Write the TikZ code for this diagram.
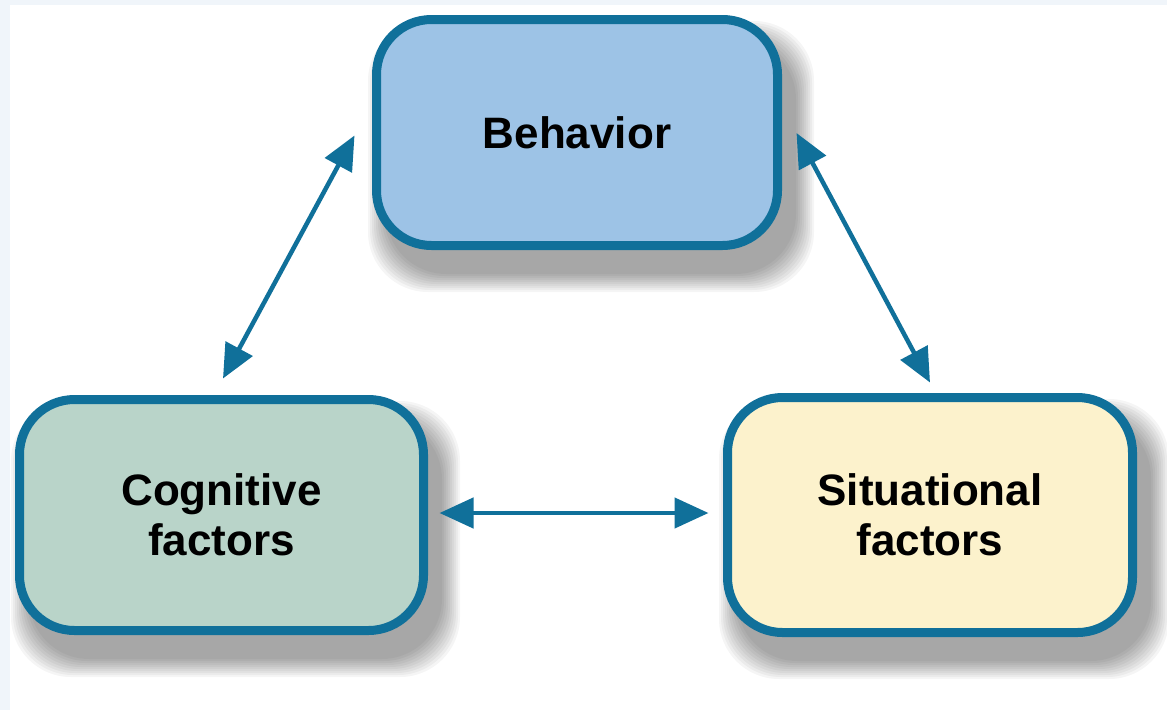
\documentclass[tikz,border=0pt]{standalone}
\usepackage{fontspec}
\setmainfont{Liberation Sans}
\usetikzlibrary{arrows.meta,calc}
\definecolor{edgeblue}{HTML}{10709A}
\definecolor{behfill}{HTML}{9DC3E6}
\definecolor{cogfill}{HTML}{B9D4C9}
\definecolor{sitfill}{HTML}{FCF2CC}
\definecolor{framecol}{HTML}{F0F5FA}
\newcommand{\softshadow}[4]{%
  \foreach \e in {0,2,...,18}{%
    \fill[black,opacity=0.04,rounded corners=60pt]
      ({#1+14-\e},{#2+24-\e}) rectangle ({#3+14+\e},{#4+24+\e});
  }%
}
\begin{document}
\begin{tikzpicture}[x=1pt,y=-1pt,
  box/.style={draw=edgeblue, line width=9pt, rounded corners=55pt,
    inner sep=0pt, align=center,
    font=\fontsize{44}{50}\selectfont\bfseries},
  arr/.style={draw=edgeblue, line width=4.5pt,
    {Triangle[length=34pt,width=30pt]}-{Triangle[length=34pt,width=30pt]}}]
\fill[framecol] (0,0) rectangle (1167,710);
\fill[white] (10,5) rectangle (1167,710);
\useasboundingbox (0,0) rectangle (1167,710);
% shadows
\softshadow{372}{15}{782}{250}
\softshadow{15}{395}{428}{635}
\softshadow{723}{393}{1137}{637}
% boxes
\node[box, fill=behfill, minimum width=401pt, minimum height=226pt] (beh) at (577,132.5) {Behavior};
\node[box, fill=cogfill, minimum width=404pt, minimum height=231pt] (cog) at (221.5,515) {Cognitive\\factors};
\node[box, fill=sitfill, minimum width=405pt, minimum height=235pt] (sit) at (930,515) {Situational\\factors};
% connectors
\draw[arr] ([shift={(-17.5,3)}]beh.west) -- ([shift={(1.5,-16.5)}]cog.north);
\draw[arr] ([shift={(14.5,0.5)}]beh.east) -- ([shift={(0,-10.5)}]sit.north);
\draw[arr] ([shift={(11.5,-2)}]cog.east) -- ([shift={(-14.5,-2)}]sit.west);
\end{tikzpicture}
\end{document}
